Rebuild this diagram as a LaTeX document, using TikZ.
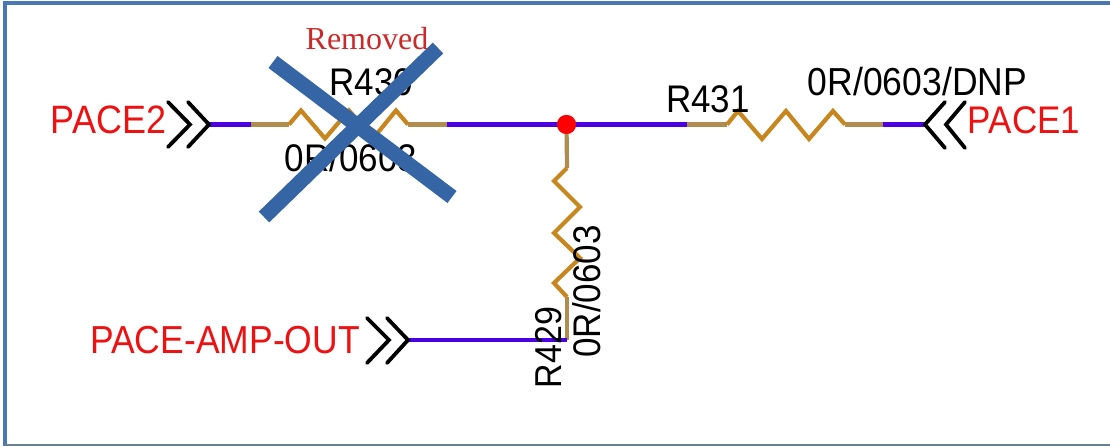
\documentclass[tikz,border=0pt]{standalone}
\usepackage{graphicx}
\usepackage{fontspec}
\setmainfont{Liberation Sans}
\newfontfamily\serifrm{Liberation Serif}
\definecolor{framec}{HTML}{4A78B0}
\definecolor{frameb}{HTML}{6A8090}
\definecolor{xblue}{HTML}{3565A5}
\definecolor{wirec}{HTML}{4A00E0}
\definecolor{leadc}{HTML}{B08D4F}
\definecolor{zigc}{HTML}{C8871E}
\definecolor{netred}{HTML}{EE1111}
\definecolor{remred}{HTML}{CC2A2A}
\newcommand{\fs}[1]{\fontsize{#1}{#1}\selectfont}
\tikzset{
  wire/.style={draw=wirec,line width=4.2pt},
  lead/.style={draw=leadc,line width=4.2pt},
  zig/.style={draw=zigc,line width=4.2pt,line join=miter},
  chev/.style={draw=black,line width=3.8pt,line cap=round,line join=miter},
  netlab/.style={text=netred,anchor=base,inner sep=0pt,yscale=1.1},
  partlab/.style={text=black,anchor=base,inner sep=0pt,yscale=1.1},
  sidelab/.style={text=black,anchor=base,inner sep=0pt,rotate=90},
  junction/.style={circle,fill=red,inner sep=0pt,minimum size=19pt},
  crossout/.style={draw=xblue,line width=15pt}
}
\begin{document}
\begin{tikzpicture}[x=1pt,y=-1pt]
\useasboundingbox (0,0) rectangle (1110,446);
\fill[white] (0,0) rectangle (1110,446);
\draw[framec,line width=3.6pt] (1112,3) -- (5,3) -- (5,447);
\draw[frameb,line width=2.2pt] (5,445) -- (1112,445);
% named points
\coordinate (p2tip) at (209,124.5);
\coordinate (a0) at (251,124.5);
\coordinate (a1) at (289,124.5);
\coordinate (a2) at (408,124.5);
\coordinate (a3) at (447,124.5);
\coordinate (b0) at (687,124.5);
\coordinate (b1) at (727,124.5);
\coordinate (b2) at (845,124.5);
\coordinate (b3) at (883,124.5);
\coordinate (p1tip) at (925,124.5);
\coordinate (c1) at (567,168);
\coordinate (c2) at (567,297);
\coordinate (c3) at (567,340);
\coordinate (amptip) at (408,340);
\node[junction] (dot) at (566.5,124.5) {};
% wires
\draw[wire] (p2tip) -- (a0);
\draw[wire] (a3) -- (b0);
\draw[wire] (b3) -- (p1tip);
% leads
\draw[lead] (a0) -- (a1);
\draw[lead] (a2) -- (a3);
\draw[lead] (b0) -- (b1);
\draw[lead] (b2) -- (b3);
\draw[lead] (dot.center) -- (c1);
\draw[lead] (c2) -- (c3);
% resistors
\draw[zig] (a1) -- (301,110.5) -- (325,138.5) -- (349,110.5) -- (373,138.5) -- (396,110.5) -- (a2);
\draw[zig] (b1) -- (738,111) -- (762,139) -- (786,111) -- (809,139) -- (833,111) -- (b2);
\draw[zig] (c1) -- (554,181) -- (580,207) -- (554,233) -- (580,258) -- (554,283) -- (c2);
\draw[wire] (amptip) -- (c3);
\node[junction] at (dot.center) {};
% connectors
\draw[chev] (168,102) -- (190,124.5) -- (168,147);
\draw[chev] (188,102) -- (p2tip) -- (188,147);
\draw[chev] (945,102) -- (p1tip) -- (945,148);
\draw[chev] (965,102) -- (946,124.5) -- (965,148);
\draw[chev] (367,318) -- (389,340) -- (367,363);
\draw[chev] (387,318) -- (amptip) -- (387,363);
% labels
\node[netlab] (pace2) at (108.5,134) {\fs{36}PACE2};
\node[netlab] (pace1) at (1024,134) {\fs{35}PACE1};
\node[netlab] (ampout) at (225,353) {\fs{35.5}PACE-AMP-OUT};
\node[partlab] (r430) at (371.5,96) {\fs{35}R430};
\node[partlab] (v430) at (351,172) {\fs{35}0R/0603};
\node[partlab] (r431) at (708,113) {\fs{35}R431};
\node[partlab] (v431) at (917.5,96) {\fs{35.5}0R/0603/DNP};
\node[sidelab] (r429) at (561,347.5) {\scalebox{1}[1.1]{\fs{34}R429}};
\node[sidelab] (v429) at (600,291.5) {\scalebox{1}[1.1]{\fs{35}0R/0603}};
% cross-out
\draw[crossout] (273,62) -- (452,197);
\draw[crossout] (264,217) -- (438,48);
\node[anchor=base,inner sep=0pt,text=remred] (removed) at (367,50) {\serifrm\fs{32}Removed};
\end{tikzpicture}
\end{document}
